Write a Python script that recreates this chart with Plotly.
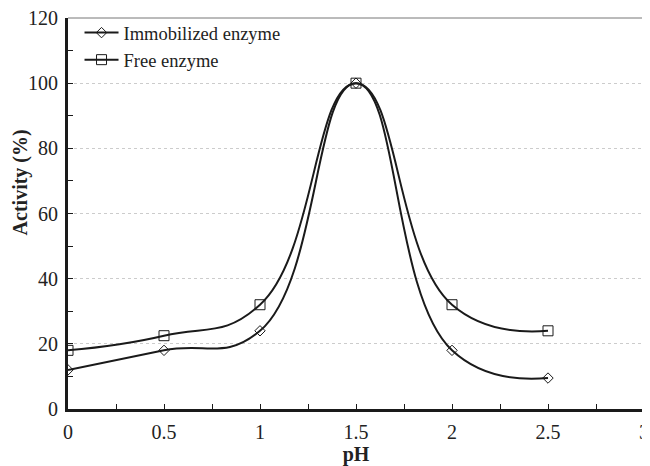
import plotly.graph_objects as go

ph = [0, 0.5, 1, 1.5, 2, 2.5]
immobilized = [12, 18, 24, 100, 18, 9.5]
free = [18, 22.5, 32, 100, 32, 24]

ink = "#1a1a1a"
fig = go.Figure()
fig.add_trace(go.Scatter(x=ph, y=immobilized, name="Immobilized enzyme",
                         mode="lines+markers", line=dict(color=ink, width=2, shape="spline", smoothing=1.3),
                         marker=dict(symbol="diamond-open", size=8, color=ink, line=dict(width=1))))
fig.add_trace(go.Scatter(x=ph, y=free, name="Free enzyme",
                         mode="lines+markers", line=dict(color=ink, width=2, shape="spline", smoothing=1.3),
                         marker=dict(symbol="square-open", size=10, color=ink, line=dict(width=1))))

font = dict(family="Liberation Serif", size=20, color="#222")
# page body has an 8px margin, so the figure is sized to fill the 650x466 window
fig.update_layout(
    width=642, height=458,
    margin=dict(l=60, r=6, t=10, b=57),
    plot_bgcolor="white", paper_bgcolor="white",
    font=font,
    showlegend=True,
    legend=dict(x=0.02, y=1.01, xanchor="left", yanchor="top", bgcolor="rgba(0,0,0,0)",
                font=dict(family="Liberation Serif", size=18.5, color="#222"), tracegroupgap=0, itemwidth=34),
    xaxis=dict(range=[0, 3], dtick=0.5, tick0=0, showgrid=False, zeroline=False, automargin=False,
               showline=True, linecolor=ink, linewidth=3, ticklabeloverflow="allow",
               ticks="inside", ticklen=5, tickcolor=ink, ticklabelstandoff=3,
               minor=dict(dtick=0.25, ticks="inside", ticklen=5, tickcolor=ink, showgrid=False),
               title=dict(text="<b>pH</b>", standoff=2, font=dict(family="Liberation Serif", size=20)),
               tickfont=font),
    yaxis=dict(range=[0, 120], dtick=20, tick0=0, showgrid=True, gridcolor="#cccccc", griddash="dot", gridwidth=1,
               zeroline=False, showline=True, linecolor=ink, linewidth=3, automargin=False,
               ticklabeloverflow="allow",
               ticks="inside", ticklen=5, tickcolor=ink, ticklabelstandoff=3,
               minor=dict(dtick=10, ticks="inside", ticklen=5, tickcolor=ink, showgrid=False),
               tickfont=font),
)
fig.add_annotation(text="<b>Activity (%)</b>", textangle=-90, xref="paper", yref="paper",
                   x=-0.083, y=0.58, xanchor="center", yanchor="middle", showarrow=False,
                   font=dict(family="Liberation Serif", size=20, color="#222"))
fig.add_shape(type="line", xref="x domain", yref="y domain", x0=0, x1=1, y0=1, y1=1,
              line=dict(color="#777", width=1), layer="below")
fig.add_shape(type="line", xref="x domain", yref="y domain", x0=1, x1=1, y0=0, y1=1,
              line=dict(color="#777", width=1), layer="below")
fig.write_html("out.html")
